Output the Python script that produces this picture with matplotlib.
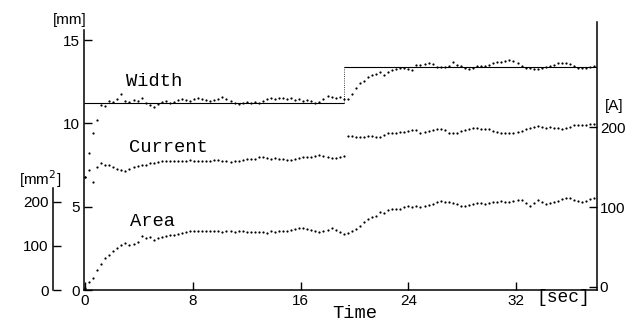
import numpy as np
import matplotlib
matplotlib.use('Agg')
import matplotlib.pyplot as plt

plt.rcParams['font.family'] = ['Liberation Sans', 'DejaVu Sans']
mono = 'Liberation Mono'

# sample times [sec], one dot every 0.3 s
t = np.arange(127) * 0.3

width = [6.8, 8.2, 9.4, 10.2, 11.1, 11.05, 11.35, 11.3, 11.45, 11.75,
         11.35, 11.3, 11.4, 11.35, 11.5, 11.2, 11.1, 11.0, 11.15, 11.3,
         11.35, 11.2, 11.3, 11.4, 11.45, 11.4, 11.35, 11.45, 11.5, 11.45,
         11.4, 11.35, 11.4, 11.45, 11.6, 11.45, 11.35, 11.2, 11.15, 11.25,
         11.3, 11.25, 11.3, 11.2, 11.35, 11.45, 11.5, 11.45, 11.5, 11.5,
         11.45, 11.5, 11.4, 11.45, 11.35, 11.4, 11.35, 11.25, 11.3, 11.45,
         11.65, 11.55, 11.5, 11.55, 11.45, 11.45, 11.75, 12.1, 12.45, 12.55,
         12.8, 12.9, 12.95, 13.05, 12.9, 13.1, 13.2, 13.25, 13.35, 13.3,
         13.25, 13.2, 13.5, 13.5, 13.55, 13.6, 13.55, 13.4, 13.4, 13.4,
         13.45, 13.7, 13.5, 13.45, 13.35, 13.25, 13.35, 13.45, 13.45, 13.45,
         13.5, 13.6, 13.7, 13.7, 13.75, 13.8, 13.75, 13.6, 13.45, 13.3,
         13.3, 13.25, 13.25, 13.3, 13.4, 13.45, 13.5, 13.6, 13.6, 13.6,
         13.55, 13.45, 13.3, 13.3, 13.35, 13.4, 13.45]

current = [138, 146, 131, 150, 155, 153, 152, 150, 148, 146,
           145, 148, 150, 151, 152, 153, 155, 155, 156, 157,
           157, 158, 158, 157, 157, 158, 159, 158, 158, 157,
           157, 158, 159, 159, 158, 157, 156, 157, 158, 159,
           160, 160, 160, 162, 162, 161, 160, 161, 160, 160,
           159, 159, 160, 161, 162, 162, 163, 164, 165, 164,
           162, 161, 161, 162, 164, 189, 189, 188, 187, 188,
           189, 189, 188, 187, 190, 192, 193, 193, 194, 194,
           195, 196, 196, 193, 194, 195, 196, 197, 197, 196,
           193, 192, 193, 195, 196, 197, 199, 199, 198, 197,
           197, 195, 194, 193, 192, 192, 193, 194, 195, 197,
           199, 200, 201, 200, 199, 200, 199, 199, 198, 199,
           200, 202, 203, 202, 203, 204, 204]

area = [5, 18, 28, 45, 60, 72, 80, 88, 95, 103,
        107, 102, 104, 108, 122, 118, 121, 114, 118, 120,
        122, 124, 126, 128, 130, 132, 133, 133, 134, 134,
        134, 133, 134, 133, 132, 133, 133, 132, 133, 133,
        132, 131, 131, 132, 131, 130, 133, 132, 134, 133,
        135, 136, 139, 141, 140, 138, 136, 134, 131, 134,
        136, 140, 137, 131, 128, 130, 135, 138, 146, 155,
        162, 166, 168, 178, 175, 182, 185, 183, 183, 188,
        191, 188, 190, 189, 192, 193, 196, 199, 202, 201,
        199, 198, 195, 192, 190, 193, 196, 198, 197, 196,
        198, 199, 201, 203, 201, 200, 202, 204, 205, 198,
        191, 197, 204, 199, 195, 198, 201, 203, 206, 210,
        208, 205, 203, 200, 202, 206, 210]

# setpoint lines of the width and the time of the step
width_levels = [11.25, 13.4]
t_step = 19.2

x_ticks = [0, 8, 16, 24, 32]
mm_ticks = [0, 5, 10, 15]
amp_ticks = [0, 100, 200]
mm2_ticks = [0, 100, 200]

W, H = 632, 322
fig = plt.figure(figsize=(W / 100, H / 100), dpi=100)
ax = fig.add_axes([84 / W, 32 / H, 513 / W, 268 / H])
x0, x1 = -0.074, 38.0

# width [mm]
ax.plot(t, width, 'o', ms=1.6, mew=0, color='k')
ax.hlines(width_levels[0], x0, t_step, color='k', lw=0.8)
ax.hlines(width_levels[1], t_step, x1, color='k', lw=0.8)
ax.vlines(t_step, width_levels[0], width_levels[1], color='k', lw=0.6, linestyles=':')
ax.set_xlim(x0, x1)
ax.set_ylim(0, 16.08)
ax.set_xticks(x_ticks)
ax.set_yticks(mm_ticks)
for s in ['top', 'right']:
    ax.spines[s].set_visible(False)
ax.spines['left'].set_bounds(0, 15.6)
ax.tick_params(direction='in', length=6, width=1, labelsize=11, pad=3)

# current [A]
axa = ax.twinx()
axa.plot(t, current, 'o', ms=1.6, mew=0, color='k')
axa.set_ylim(-3.75, 331.25)
axa.set_yticks(amp_ticks)
for s in ['top', 'left', 'bottom']:
    axa.spines[s].set_visible(False)
axa.tick_params(direction='in', length=6, width=1, labelsize=11, pad=2)

# area [mm2]
axs = ax.twinx()
axs.plot(t, area, 'o', ms=1.6, mew=0, color='k')
axs.set_ylim(0, 609)
axs.set_yticks(mm2_ticks)
axs.yaxis.tick_left()
for s in ['top', 'right', 'bottom']:
    axs.spines[s].set_visible(False)
axs.spines['left'].set_position(('axes', -31 / 513))
axs.spines['left'].set_bounds(0, 232)
axs.tick_params(direction='in', length=6, width=1, labelsize=11, pad=3)

for a in (ax, axa, axs):
    a.patch.set_visible(False)
    for sp in a.spines.values():
        sp.set_linewidth(1.1)

def ftext(x, y, s, **kw):
    fig.text(x / W, 1 - y / H, s, ha='center', va='center', **kw)

ftext(70, 20, '[mm]', fontsize=11)
ftext(40, 179, '[mm$^2$]', fontsize=11)
ftext(614, 106, '[A]', fontsize=11)
ftext(154, 82, 'Width', fontsize=13.5, family=mono)
ftext(168, 147, 'Current', fontsize=13.5, family=mono)
ftext(152, 222, 'Area', fontsize=13.5, family=mono)
ftext(355, 314, 'Time', fontsize=13.5, family=mono)
ftext(563, 297, '[sec]', fontsize=13, family=mono)

fig.savefig('out.png', dpi=100)
